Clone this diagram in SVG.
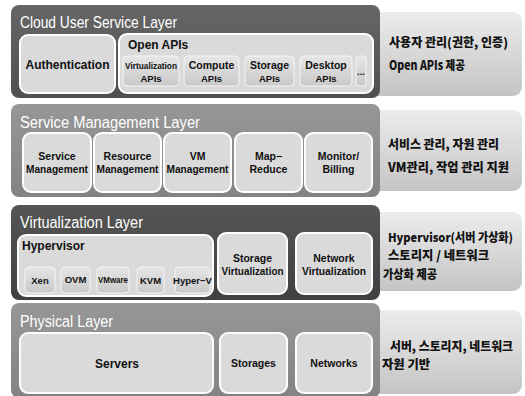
<svg xmlns="http://www.w3.org/2000/svg" width="525" height="396" viewBox="0 0 525 396">
<defs>
<linearGradient id="side" x1="0" y1="0" x2="0" y2="1">
<stop offset="0" stop-color="#ececec"/><stop offset="1" stop-color="#c4c4c4"/>
</linearGradient>
<linearGradient id="sub" x1="0" y1="0" x2="0" y2="1">
<stop offset="0" stop-color="#e6e6e6"/><stop offset="1" stop-color="#c9c9c9"/>
</linearGradient>
<linearGradient id="dark" x1="0" y1="0" x2="0" y2="1">
<stop offset="0" stop-color="#666"/><stop offset="1" stop-color="#505050"/>
</linearGradient>
<linearGradient id="dark2" x1="0" y1="0" x2="0" y2="1">
<stop offset="0" stop-color="#555"/><stop offset="1" stop-color="#404040"/>
</linearGradient>
<linearGradient id="mid" x1="0" y1="0" x2="0" y2="1">
<stop offset="0" stop-color="#979797"/><stop offset="1" stop-color="#838383"/>
</linearGradient>
</defs>
<style>
.side{fill:url(#side);}
.box{fill:#dadada;stroke:#fff;stroke-width:2;}
.sub{fill:url(#sub);stroke:#f4f4f4;stroke-width:1;}
.title{font-family:"Liberation Sans",Arial,sans-serif;font-size:16px;fill:#fff;}
.lbl{font-family:"Liberation Sans",Arial,sans-serif;font-weight:bold;font-size:10.5px;fill:#111;text-anchor:middle;}
.sm{font-size:9.5px;}
.big{font-size:12px;}
.kr{font-family:"Noto Sans CJK KR",sans-serif;font-weight:900;font-size:12.5px;fill:#111;}
</style>

<!-- side panels -->
<g id="side1"><rect class="side" x="360" y="12" width="162" height="84" rx="9"/>
<text class="kr" x="389" y="47" textLength="119" lengthAdjust="spacingAndGlyphs">사용자 관리(권한, 인증)</text>
<text class="kr" x="389" y="70" textLength="76" lengthAdjust="spacingAndGlyphs">Open APIs 제공</text></g>
<g id="side2"><rect class="side" x="360" y="110" width="162" height="81" rx="9"/>
<text class="kr" x="388" y="149" textLength="111" lengthAdjust="spacingAndGlyphs">서비스 관리, 자원 관리</text>
<text class="kr" x="388" y="172" textLength="121" lengthAdjust="spacingAndGlyphs">VM관리, 작업 관리 지원</text></g>
<g id="side3"><rect class="side" x="360" y="212" width="162" height="79" rx="9"/>
<text class="kr" x="388" y="242" style="font-size:12px" textLength="125" lengthAdjust="spacingAndGlyphs">Hypervisor(서버 가상화)</text>
<text class="kr" x="388" y="260" textLength="101" lengthAdjust="spacingAndGlyphs">스토리지 / 네트워크</text>
<text class="kr" x="383" y="279" textLength="54" lengthAdjust="spacingAndGlyphs">가상화 제공</text></g>
<g id="side4"><rect class="side" x="360" y="310" width="162" height="84" rx="9"/>
<text class="kr" x="390" y="351" textLength="123" lengthAdjust="spacingAndGlyphs">서버, 스토리지, 네트워크</text>
<text class="kr" x="382" y="369" textLength="48" lengthAdjust="spacingAndGlyphs">자원 기반</text></g>

<!-- Layer 1 -->
<g id="layer1">
<rect x="11" y="5" width="369" height="93" rx="8" fill="url(#dark)"/>
<text class="title" x="20" y="28" textLength="157" lengthAdjust="spacingAndGlyphs">Cloud User Service Layer</text>
<g id="auth"><rect class="box" x="20" y="35" width="95" height="58" rx="8"/>
<text class="lbl big" x="67.5" y="69">Authentication</text></g>
<g id="openapis"><rect class="box" x="119" y="34" width="254" height="59" rx="8"/>
<text class="lbl big" x="128" y="49" style="text-anchor:start">Open APIs</text>
<g id="vapi"><rect class="sub" x="123" y="56" width="56" height="30" rx="4"/>
<text class="lbl sm" x="151" y="69" textLength="52" lengthAdjust="spacingAndGlyphs">Virtualization</text><text class="lbl sm" x="151" y="82">APIs</text></g>
<g id="capi"><rect class="sub" x="184" y="56" width="55" height="30" rx="4"/>
<text class="lbl" x="211.5" y="69">Compute</text><text class="lbl sm" x="211.5" y="82">APIs</text></g>
<g id="sapi"><rect class="sub" x="245" y="56" width="49" height="30" rx="4"/>
<text class="lbl" x="269.5" y="69">Storage</text><text class="lbl sm" x="269.5" y="82">APIs</text></g>
<g id="dapi"><rect class="sub" x="300" y="56" width="52" height="30" rx="4"/>
<text class="lbl" x="326" y="69">Desktop</text><text class="lbl sm" x="326" y="82">APIs</text></g>
<g id="more"><rect class="sub" x="356" y="56" width="10" height="30" rx="3"/>
<text class="lbl sm" x="361" y="75">...</text></g>
</g>
</g>

<!-- Layer 2 -->
<g id="layer2">
<rect x="11" y="104" width="369" height="93" rx="8" fill="url(#mid)"/>
<text class="title" x="20" y="128" textLength="180" lengthAdjust="spacingAndGlyphs">Service Management Layer</text>
<g id="svcmgmt"><rect class="box" x="23" y="133" width="68" height="59" rx="8"/>
<text class="lbl" x="57" y="160">Service</text><text class="lbl" x="57" y="173" textLength="62" lengthAdjust="spacingAndGlyphs">Management</text></g>
<g id="resmgmt"><rect class="box" x="94" y="133" width="67" height="59" rx="8"/>
<text class="lbl" x="127.5" y="160">Resource</text><text class="lbl" x="127.5" y="173" textLength="62" lengthAdjust="spacingAndGlyphs">Management</text></g>
<g id="vmmgmt"><rect class="box" x="164" y="133" width="67" height="59" rx="8"/>
<text class="lbl" x="197.5" y="160">VM</text><text class="lbl" x="197.5" y="173" textLength="62" lengthAdjust="spacingAndGlyphs">Management</text></g>
<g id="mapreduce"><rect class="box" x="235" y="133" width="67" height="59" rx="8"/>
<text class="lbl" x="268.5" y="160">Map−</text><text class="lbl" x="268.5" y="173">Reduce</text></g>
<g id="monitor"><rect class="box" x="305" y="133" width="67" height="59" rx="8"/>
<text class="lbl" x="338.5" y="160">Monitor/</text><text class="lbl" x="338.5" y="173">Billing</text></g>
</g>

<!-- Layer 3 -->
<g id="layer3">
<rect x="11" y="205" width="369" height="95" rx="8" fill="url(#dark2)"/>
<text class="title" x="20" y="228" textLength="123" lengthAdjust="spacingAndGlyphs">Virtualization Layer</text>
<g id="hypervisor"><rect class="box" x="18" y="235" width="195" height="61" rx="8"/>
<text class="lbl big" x="22" y="250" style="text-anchor:start">Hypervisor</text>
<g id="xen"><rect class="sub" x="25" y="267" width="30" height="26" rx="4"/><text class="lbl sm" x="40" y="284">Xen</text></g>
<g id="ovm"><rect class="sub" x="61" y="267" width="29" height="26" rx="4"/><text class="lbl sm" x="75.5" y="283">OVM</text></g>
<g id="vmware"><rect class="sub" x="97" y="267" width="32" height="26" rx="4"/><text class="lbl sm" x="113" y="283" textLength="30" lengthAdjust="spacingAndGlyphs">VMware</text></g>
<g id="kvm"><rect class="sub" x="137" y="267" width="27" height="26" rx="4"/><text class="lbl sm" x="150.5" y="284">KVM</text></g>
<g id="hyperv"><rect class="sub" x="175" y="267" width="35" height="26" rx="4"/><text class="lbl sm" x="192.5" y="284">Hyper−V</text></g>
</g>
<g id="storvirt"><rect class="box" x="218" y="233" width="69" height="61" rx="8"/>
<text class="lbl" x="252.5" y="262">Storage</text><text class="lbl" x="252.5" y="275" textLength="62" lengthAdjust="spacingAndGlyphs">Virtualization</text></g>
<g id="netvirt"><rect class="box" x="296" y="233" width="76" height="61" rx="8"/>
<text class="lbl" x="334" y="262">Network</text><text class="lbl" x="334" y="275" textLength="64" lengthAdjust="spacingAndGlyphs">Virtualization</text></g>
</g>

<!-- Layer 4 -->
<g id="layer4">
<rect x="11" y="303" width="369" height="95" rx="8" fill="url(#mid)"/>
<text class="title" x="20" y="327" textLength="93" lengthAdjust="spacingAndGlyphs">Physical Layer</text>
<g id="servers"><rect class="box" x="20" y="333" width="193" height="60" rx="8"/>
<text class="lbl big" x="117" y="368">Servers</text></g>
<g id="storages"><rect class="box" x="220" y="333" width="67" height="60" rx="8"/>
<text class="lbl" x="253.5" y="367">Storages</text></g>
<g id="networks"><rect class="box" x="296" y="333" width="76" height="60" rx="8"/>
<text class="lbl" x="334" y="367">Networks</text></g>
</g>
</svg>
